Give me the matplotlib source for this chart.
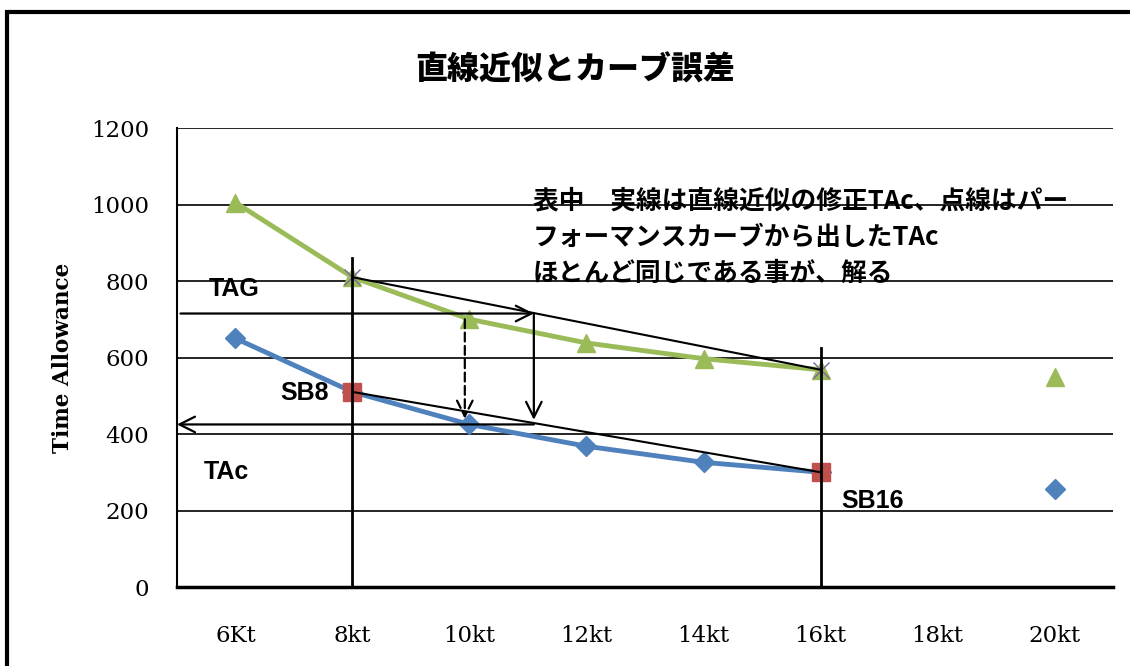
import numpy as np
import matplotlib.pyplot as plt
from matplotlib.patches import Rectangle

JP = ["Noto Sans CJK JP", "DejaVu Sans"]
SERIF = "DejaVu Serif"

categories = ["6Kt", "8kt", "10kt", "12kt", "14kt", "16kt", "18kt", "20kt"]
tac_upper = [1005, 810, 700, 638, 597, 568, np.nan, 550]   # green triangles
tac_lower = [650, 510, 425, 368, 326, 300, np.nan, 256]    # blue diamonds
sb_idx = [1, 5]                                            # SB8 / SB16 markers
yticks = [0, 200, 400, 600, 800, 1000, 1200]

# read-off levels for the TAc arrows
tac_read_hi = 715
tac_read_lo = 425
read_x = 2.55

GREEN = "#9BBB59"
BLUE = "#4F81BD"
RED = "#C0504D"
PURPLE = "#8064A2"

x = np.arange(len(categories))

fig = plt.figure(figsize=(11.3, 6.66), dpi=100)
ax = fig.add_axes([0.1566, 0.1186, 0.8284, 0.6892])

# outer chart frame
fig.patches.append(Rectangle((0.006, -0.1), 1.2, 1.082, transform=fig.transFigure,
                             fill=False, lw=3, ec="black", clip_on=False))

ax.set_xlim(-0.5, len(categories) - 0.5)
ax.set_ylim(0, 1200)
ax.set_yticks(yticks)
ax.set_xticks(x)
ax.set_xticklabels(categories)
for y in yticks[1:]:
    ax.axhline(y, color="black", lw=1.2, zorder=1)
for s in ["top", "right"]:
    ax.spines[s].set_visible(False)
ax.spines["left"].set_linewidth(1.5)
ax.spines["bottom"].set_linewidth(2.5)
ax.tick_params(length=0, labelsize=16.5)
ax.tick_params(axis="x", pad=27)
ax.tick_params(axis="y", pad=20)
for lab in ax.get_xticklabels() + ax.get_yticklabels():
    lab.set_family(SERIF)
ax.set_ylabel("Time Allowance", family=SERIF, fontweight="bold", fontsize=15.5)
ax.yaxis.set_label_coords(-0.11, 0.5)

# curves
ax.plot(x, tac_upper, color=GREEN, lw=3.5, marker="^", ms=13, zorder=3)
ax.plot(x, tac_lower, color=BLUE, lw=3.5, marker="D", ms=10, zorder=3)
ax.plot(x[sb_idx], [tac_lower[i] for i in sb_idx], ls="none", marker="s", ms=13,
        color=RED, zorder=4)
ax.plot(x[sb_idx], [tac_upper[i] for i in sb_idx], ls="none", marker="x", ms=12,
        mew=1, color=PURPLE, zorder=4)

# straight-line approximations between SB8 and SB16
i0, i1 = sb_idx
ax.plot([x[i0], x[i1]], [tac_upper[i0], tac_upper[i1]], color="black", lw=1.5, zorder=5)
ax.plot([x[i0], x[i1]], [tac_lower[i0], tac_lower[i1]], color="black", lw=1.5, zorder=5)

# vertical markers at 8kt / 16kt
ax.plot([x[i0], x[i0]], [0, 860], color="black", lw=2, zorder=5, clip_on=False)
ax.plot([x[i1], x[i1]], [0, 625], color="black", lw=2, zorder=5, clip_on=False)

# arrows
ap = dict(arrowstyle="->", lw=1.6, color="black", mutation_scale=28, shrinkA=0, shrinkB=0)
ax.annotate("", xy=(read_x, tac_read_hi), xytext=(-0.47, tac_read_hi), arrowprops=ap, zorder=6)
ax.annotate("", xy=(read_x, 437), xytext=(read_x, tac_read_hi), arrowprops=ap, zorder=6)
ax.annotate("", xy=(-0.5, tac_read_lo), xytext=(read_x, tac_read_lo), arrowprops=ap, zorder=6)
ap_d = dict(ap, ls=(0, (4, 2)))
ax.annotate("", xy=(x[2] - 0.04, 440), xytext=(x[2] - 0.04, tac_upper[2]), arrowprops=ap_d, zorder=6)

# labels
lab_kw = dict(family=["Liberation Sans", "DejaVu Sans"], fontsize=18, fontweight="bold",
              va="center", zorder=7)
ax.text(-0.23, 780, "TAG", **lab_kw)
ax.text(-0.27, 300, "TAc", **lab_kw)
ax.text(0.38, 506, "SB8", **lab_kw)
ax.text(5.18, 225, "SB16", **lab_kw)

note = ("表中　実線は直線近似の修正TAc、点線はパー\n"
        "フォーマンスカーブから出したTAc\n"
        "ほとんど同じである事が、解る")
ax.text(2.54, 1045, note, family=JP, fontsize=18.5, fontweight="bold", va="top",
        linespacing=1.45, zorder=7)

fig.text(0.509, 0.895, "直線近似とカーブ誤差", family=JP, fontsize=23,
         fontweight="black", ha="center", va="center")

fig.savefig("out.png", dpi=100)
